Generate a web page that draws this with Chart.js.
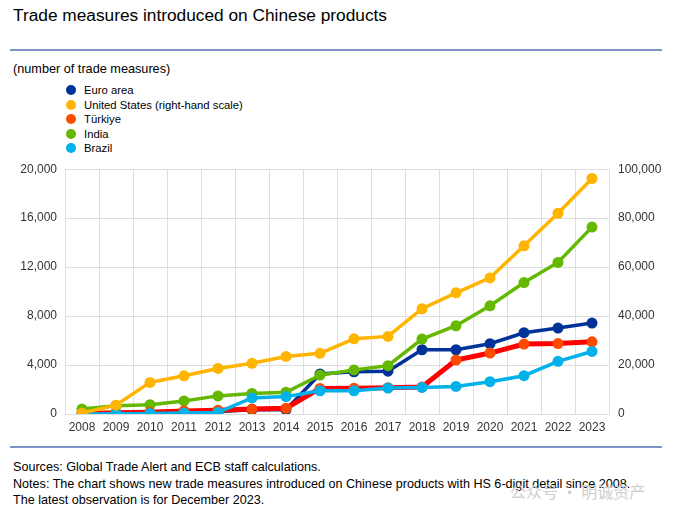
<!DOCTYPE html>
<html>
<head>
<meta charset="utf-8">
<script src="https://cdn.jsdelivr.net/npm/chart.js@4"></script>
<style>
  body { margin: 0; width: 684px; height: 514px; background: #fff; font-family: "Liberation Sans", Arial, sans-serif; color: #000; position: relative; overflow: hidden; }
  .title { position: absolute; left: 13px; top: 5px; font-size: 17.3px; }
  .rule { position: absolute; left: 10px; width: 652px; height: 2px; background: #8093c8; }
  .unit { position: absolute; left: 13px; top: 62px; font-size: 12.7px; }
  .legend { position: absolute; left: 66px; top: 83px; font-size: 11.3px; }
  .legend div { height: 14.6px; line-height: 14.6px; }
  .legend span { display: inline-block; width: 10px; height: 10px; border-radius: 50%; margin-right: 8px; vertical-align: -1px; }
  .notes { position: absolute; left: 13px; top: 459px; font-size: 12.6px; line-height: 16.5px; }
  .mark { position: absolute; left: 510px; top: 479px; font-size: 16px; color: #cfcfcf; font-family: "Noto Sans CJK SC", sans-serif; }
  #wrap { position: absolute; left: 0; top: 153px; width: 684px; height: 287px; }
</style>
</head>
<body>
<div class="title">Trade measures introduced on Chinese products</div>
<div class="rule" style="top:49px"></div>
<div class="unit">(number of trade measures)</div>
<div class="legend" id="legend"></div>
<div id="wrap"><canvas id="chart"></canvas></div>
<div class="rule" style="top:446px"></div>
<div class="notes">
  Sources: Global Trade Alert and ECB staff calculations.<br>
  Notes: The chart shows new trade measures introduced on Chinese products with HS 6-digit detail since 2008.<br>
  The latest observation is for December 2023.
</div>
<div class="mark">公众号 · 明诚资产</div>

<script>
const years = ['2008', '2009', '2010', '2011', '2012', '2013', '2014', '2015', '2016', '2017', '2018', '2019', '2020', '2021', '2022', '2023'];

const euroArea = [50, 100, 120, 200, 200, 350, 350, 3270, 3450, 3500, 5250, 5250, 5740, 6640, 7020, 7430];
const unitedStates = [400, 3600, 12900, 15600, 18600, 20700, 23500, 24800, 30700, 31700, 43000, 49500, 55600, 68700, 82000, 96200];
const turkiye = [50, 100, 150, 250, 300, 410, 470, 2090, 2100, 2150, 2200, 4410, 4980, 5710, 5750, 5900];
const india = [400, 680, 760, 1070, 1480, 1680, 1780, 3180, 3600, 3950, 6120, 7210, 8840, 10740, 12380, 15270];
const brazil = [0, 20, 40, 80, 130, 1310, 1420, 1900, 1900, 2120, 2170, 2250, 2640, 3130, 4300, 5110];

const leftTicks = [0, 4000, 8000, 12000, 16000, 20000];
const rightTicks = [0, 20000, 40000, 60000, 80000, 100000];

const series = [
  { label: 'Euro area', data: euroArea, line: '#003299', dot: '#003299', axis: 'y', order: 5 },
  { label: 'United States (right-hand scale)', data: unitedStates, line: '#ffb400', dot: '#ffb400', axis: 'y2', order: 1 },
  { label: 'Türkiye', data: turkiye, line: '#ff0000', dot: '#ff4b00', axis: 'y', order: 3, width: 5 },
  { label: 'India', data: india, line: '#65b800', dot: '#65b800', axis: 'y', order: 4 },
  { label: 'Brazil', data: brazil, line: '#00b1ea', dot: '#00b1ea', axis: 'y', order: 2 }
];

// legend as a vertical list, like the original
const legend = document.getElementById('legend');
series.forEach(s => {
  const row = document.createElement('div');
  row.innerHTML = `<span style="background:${s.dot}"></span>${s.label}`;
  legend.appendChild(row);
});

const fmt = v => v.toLocaleString('en-US');
const tickFont = { family: '"Liberation Sans", Arial, sans-serif', size: 12 };

new Chart(document.getElementById('chart'), {
  type: 'line',
  data: {
    labels: years,
    datasets: series.map(s => ({
      label: s.label,
      data: s.data,
      yAxisID: s.axis,
      order: s.order,
      borderColor: s.line,
      backgroundColor: s.dot,
      borderWidth: s.width || 3.5,
      pointRadius: 5.5,
      pointBackgroundColor: s.dot,
      pointBorderColor: s.dot,
      pointBorderWidth: 0,
      tension: 0
    }))
  },
  options: {
    responsive: true,
    maintainAspectRatio: false,
    animation: false,
    layout: { padding: { top: 2, left: 0, right: 0, bottom: 0 } },
    plugins: { legend: { display: false }, tooltip: { enabled: false } },
    scales: {
      x: {
        offset: true,
        grid: { offset: true, color: '#dedede', drawTicks: false },
        border: { color: '#dedede' },
        ticks: { color: '#333', font: tickFont, padding: 6, maxRotation: 0, autoSkip: false },
        afterFit: a => { a.height = 26; }
      },
      y: {
        position: 'left',
        min: 0, max: 20000,
        afterBuildTicks: a => { a.ticks = leftTicks.map(v => ({ value: v })); },
        grid: { color: '#dedede', drawTicks: false },
        border: { color: '#dedede' },
        ticks: { color: '#333', font: tickFont, padding: 8, callback: v => fmt(v) },
        afterFit: a => { a.width = 65; }
      },
      y2: {
        position: 'right',
        min: 0, max: 100000,
        afterBuildTicks: a => { a.ticks = rightTicks.map(v => ({ value: v })); },
        grid: { display: false, drawTicks: false },
        border: { color: '#dedede' },
        ticks: { color: '#333', font: tickFont, padding: 9, callback: v => fmt(v) },
        afterFit: a => { a.width = 75; }
      }
    }
  }
});
</script>
</body>
</html>
